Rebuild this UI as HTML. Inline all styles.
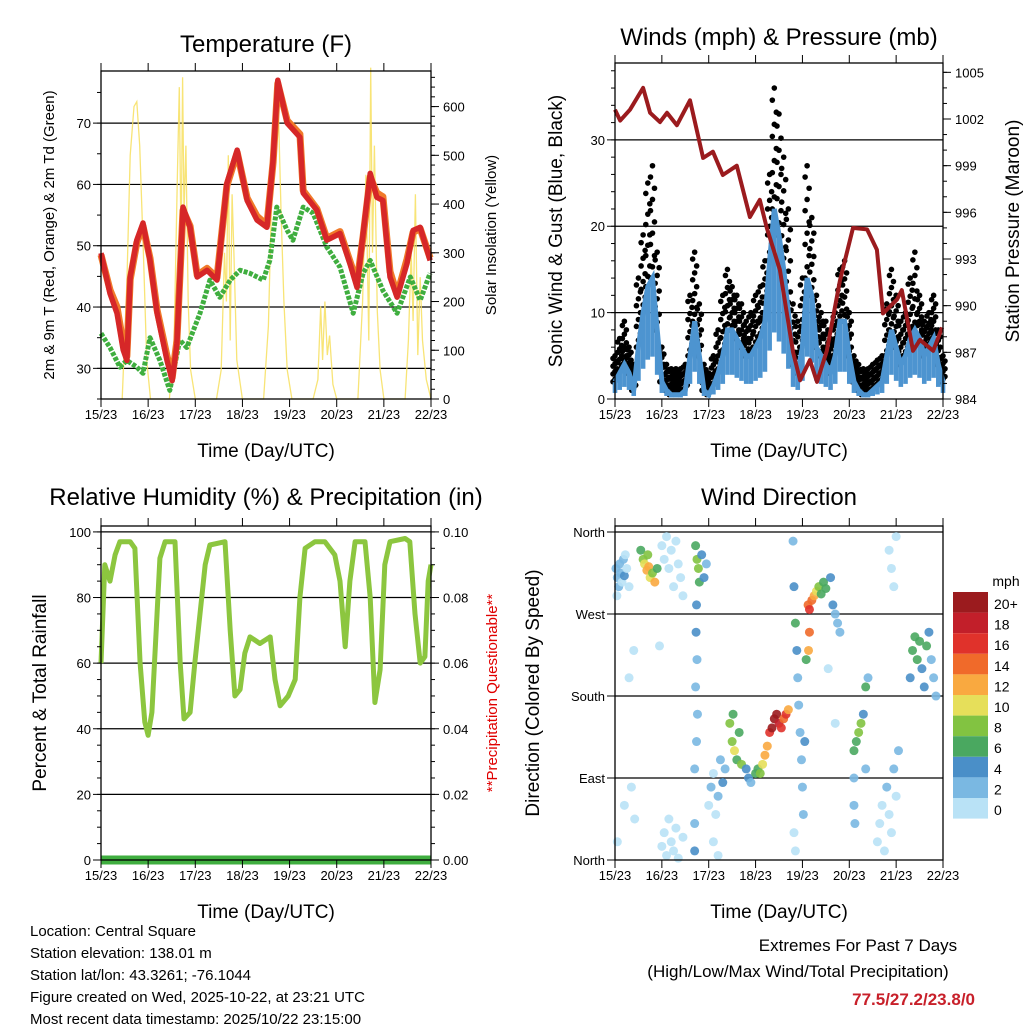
<!DOCTYPE html>
<html><head><meta charset="utf-8"><style>
body{margin:0;background:#fff}
svg{display:block;font-family:"Liberation Sans",sans-serif}
</style></head><body>
<svg id="c" width="1024" height="1024" viewBox="0 0 1024 1024" xmlns="http://www.w3.org/2000/svg"></svg>
<script>
// ---- Temperature data (days since 15/23) ----
const tDays=[0,0.19,0.34,0.47,0.55,0.62,0.76,0.89,1.04,1.19,1.40,1.51,1.61,1.74,1.89,2.04,2.25,2.46,2.67,2.89,3.10,3.31,3.52,3.65,3.75,3.95,4.22,4.29,4.58,4.79,5.07,5.28,5.43,5.56,5.71,5.85,5.98,6.13,6.28,6.49,6.62,6.77,6.98];
const t2m=[48.8,42.2,39,33,31.3,44.9,50.9,53.7,47.6,39,31.3,28,34,56.3,53,44.9,46,44.4,60.2,65.6,57.4,54.2,53,64,77,70,67.7,58.6,55.8,50.9,52,47.1,43.2,52,61.8,57.9,57.4,44.9,41.6,47.1,52.5,53,47.6];
const t9m=[48.5,42.8,40,34,32,44.5,50.5,53.2,48,39.5,32,28.5,34.5,55.8,53.2,45.2,46.3,44.8,59.8,65.2,57.8,54.8,53.4,63.6,76.5,70.4,68.2,59,56,51.2,52.3,47.5,44,51.5,61.2,58.6,58,45.8,42,47.8,52.2,52.8,48];
const tdDays=[0,0.19,0.40,0.55,0.76,0.89,1.04,1.25,1.46,1.67,1.82,2.10,2.31,2.52,2.74,2.95,3.16,3.44,3.58,3.73,3.95,4.07,4.29,4.50,4.79,5.07,5.35,5.56,5.71,5.98,6.28,6.56,6.77,6.98];
const td2m=[35.7,33.4,30.2,31.3,30.2,29.2,35,31.3,26.4,34.6,33.4,39,44.4,41.6,44.4,46,45.5,44.4,47.6,56.3,52.5,50.9,56.3,55.3,49.8,46.5,39,45.5,47.6,42.7,39,44.9,41.1,45.5];
const solDays=[0.45,0.55,0.62,0.7,0.76,0.82,0.9,0.97,1.05, 1.45,1.55,1.62,1.66,1.7,1.73,1.76,1.8,1.85,1.9,2.0, 2.45,2.55,2.62,2.66,2.7,2.74,2.78,2.82,2.88,3.0, 3.45,3.55,3.62,3.7,3.76,3.82,3.88,3.95,4.05, 4.5,4.6,4.66,4.7,4.75,4.8,4.85,4.92,5.0, 5.45,5.55,5.62,5.68,5.72,5.76,5.8,5.86,5.92,6.0, 6.45,6.52,6.58,6.62,6.67,6.72,6.77,6.82,6.9,7.0];
const solVals=[0,240,500,600,610,520,300,80,0, 0,120,460,640,300,660,380,520,200,60,0, 0,60,300,200,500,120,420,300,80,0, 0,150,420,560,600,380,200,60,0, 0,40,190,80,200,90,130,30,0, 0,200,460,120,680,300,520,180,60,0, 0,120,300,160,420,90,250,120,40,0];
// ---- Winds ----
const wStep=0.1;
const gust=[5,7,9,6,4,14,19,25,27,17,6,4,3.5,3.5,3.5,4,12,17,11,4,3,5,8,12,15,13,12,11,9,10,12,13,16,26,36,33,28,22,11,9,14,27,21,12,10,9,7,10,15,16,10,5,4,3.5,3.5,4,4.5,5,11,15,12,9,10,14,17,12,9,10,12,8,5];
const wind=[2,3,4,3,1,6,10,13,14,8,2,1,0.5,0.5,0.5,1,5,9,5,1,0.5,1.5,3,5,8,8,7,6,5,5,6,7,9,16,22,19,15,10,4,3,6,14,12,6,5,4,3,5,9,9,5,2,1,0.5,0.5,1,1.5,2,5,8,6,4,5,7,8,7,5,6,7,4,2];
const pDays=[0,0.11,0.32,0.60,0.75,0.96,1.11,1.32,1.60,1.88,2.09,2.30,2.60,2.88,3.09,3.24,3.52,3.80,3.95,4.16,4.31,4.52,4.80,5.08,5.38,5.59,5.72,6.02,6.12,6.36,6.51,6.79,6.98];
const pres=[1002.6,1001.9,1002.6,1004.0,1002.4,1001.8,1002.4,1001.6,1003.2,999.5,999.9,998.4,999.0,995.7,996.8,995.0,992.3,987.0,985.2,986.5,985.1,987.1,991.6,995.0,994.9,993.6,989.5,990.4,991.0,987.1,987.8,987.1,988.6];
// ---- RH ----
const rhDays=[0,0.08,0.19,0.30,0.40,0.62,0.72,0.83,0.93,1.0,1.08,1.17,1.25,1.36,1.57,1.68,1.76,1.89,1.99,2.10,2.21,2.31,2.63,2.74,2.84,2.95,3.05,3.16,3.37,3.59,3.69,3.80,3.97,4.12,4.22,4.33,4.54,4.75,4.96,5.07,5.18,5.28,5.39,5.60,5.71,5.81,5.92,6.02,6.13,6.45,6.55,6.66,6.77,6.87,6.94,7.0];
const rhVals=[60,90,85,93,97,97,95,60,42,38,45,70,92,97,97,60,43,45,60,75,90,96,97,70,50,52,63,68,66,68,55,47,50,55,80,95,97,97,93,85,65,85,97,97,80,48,58,90,97,98,97,75,60,62,85,90];
const precip=[0,0,0,0,0,0,0,0];
// ---- Wind direction ----
const dDays=[0.02,0.05,0.08,0.1,0.12,0.15,0.18,0.2,0.25,0.3,0.04,0.22, 0.55,0.6,0.63,0.68,0.72,0.75,0.8,0.85,0.9,0.7, 1.0,1.05,1.1,1.15,1.2,1.25,1.3,1.35,1.4,1.45,1.0,1.05,1.1,1.15,1.2,1.25,1.3,1.35,1.45,0.95,0.3,0.4,0.2,0.05,0.35,0.42, 1.72,1.75,1.78,1.8,1.85,1.9,1.95,1.74,1.73,1.75,1.72,1.76,1.74,1.7,1.7,1.7, 2.0,2.05,2.1,2.15,2.2,2.25,2.3,2.35,2.1,2.2, 2.45,2.5,2.55,2.6,2.65,2.52,2.7, 2.8,2.85,2.9,3.0,3.05,3.1,3.15,3.2,3.25, 3.3,3.35,3.4,3.45,3.5,3.55,3.6,3.65,3.7, 3.8,3.82,3.85,3.88,3.9,3.92,3.95,3.98,4.0,4.02,3.82,3.85,4.05,4.08, 4.12,4.15,4.2,4.25,4.3,4.35,4.4,4.45,4.5,4.15,4.13, 4.6,4.65,4.7,4.75,4.8,4.55,4.7, 5.1,5.15,5.2,5.25,5.3,5.35,5.4,5.1,5.12,5.1,5.35, 5.6,5.65,5.7,5.75,5.8,5.85,5.9,5.95,6.0,6.05,5.85,5.9,5.95,6.0, 6.3,6.35,6.4,6.45,6.5,6.55,6.6,6.65,6.7,6.75,6.8,6.85];
const dDirs=[320,310,300,325,315,305,330,312,320,300,290,335, 340,330,325,318,322,310,315,305,320,335, 345,330,355,320,340,300,350,325,310,290,15,30,5,45,20,10,35,2,25,235,200,230,60,20,80,45, 345,330,320,305,335,310,325,280,250,220,190,160,130,100,40,10, 60,80,95,50,70,110,85,100,20,5, 150,130,120,110,140,160,105, 100,90,85,95,100,95,105,115,125, 140,145,155,160,150,145,155,160,165, 350,300,260,230,200,170,140,110,80,50,30,10,130,220, 280,275,285,290,295,300,292,305,298,250,230, 310,280,270,260,250,210,150, 120,130,140,150,160,190,200,60,40,90,100, 20,40,60,10,80,50,30,100,70,120,340,320,300,355, 200,230,245,220,240,210,190,235,250,220,200,180];
const dSpeeds=[2,3,2,2,3,1,2,4,1,1,1,1, 7,8,10,13,12,11,8,12,6,9, 0,0,0,0,1,0,0,0,1,0,0,0,0,0,1,0,0,0,0,1,0,0,0,0,0,0, 6,8,9,6,5,4,3,4,4,3,2,3,2,2,3,4, 1,2,1,1,3,2,4,3,0,0, 8,9,10,7,6,7,8, 5,4,3,6,7,8,10,12,12, 16,20,21,22,18,16,14,16,12, 3,4,6,4,3,3,2,2,2,2,1,1,4,7, 14,16,15,12,10,8,7,6,6,15,12, 4,4,3,2,2,1,1, 6,7,9,8,5,6,3,2,2,2,3, 0,0,1,0,2,1,0,3,1,2,0,0,0,0, 4,6,7,6,7,5,5,6,4,3,3,2];
const cbLabels=["20+","18","16","14","12","10","8","6","4","2","0"];
const cbColors=["#9b1b1e","#c21f2a","#e0322b","#f06a2a","#f9a940","#e6df5a","#82c341","#4aa860","#4a8fc8","#7ab8e2","#b9e2f6"];
const xTicks=["15/23","16/23","17/23","18/23","19/23","20/23","21/23","22/23"];

const NS="http://www.w3.org/2000/svg";
const svg=document.getElementById('c');
function mk(tag,attrs,parent){const e=document.createElementNS(NS,tag);for(const k in attrs)e.setAttribute(k,attrs[k]);(parent||svg).appendChild(e);return e;}
function txt(x,y,s,size,opt){opt=opt||{};const e=mk('text',{x:x,y:y,'font-size':size,fill:opt.fill||'#000','text-anchor':opt.anchor||'middle'});if(opt.rot)e.setAttribute('transform','rotate(-90 '+x+' '+y+')');if(opt.bold)e.setAttribute('font-weight','bold');e.textContent=s;return e;}
function colorFor(s){let i=Math.min(10,Math.floor(s/2));return cbColors[10-i];}

function panel(P){
  const g=mk('g',{});
  
  
  const X=d=>P.x0+d*(P.x1-P.x0)/7;
  const YL=v=>P.y1-(v-P.lmin)*(P.y1-P.y0)/(P.lmax-P.lmin);
  const YR=v=>P.y1-(v-P.rmin)*(P.y1-P.y0)/(P.rmax-P.rmin);
  P.lTicks.forEach(v=>{const y=YL(v);if(y>P.y0+1&&y<P.y1-1){const l=mk('line',{x1:P.x0,x2:P.x1,y1:y,y2:y,stroke:'#000','stroke-width':1.2},g);}});
  P.draw(g,X,YL,YR);
  const f=mk('rect',{x:P.x0,y:P.y0,width:P.x1-P.x0,height:P.y1-P.y0,fill:'none',stroke:'#000','stroke-width':1.3},g);
  
  for(let i=0;i<=7;i++){const x=X(i);mk('line',{x1:x,x2:x,y1:P.y1,y2:P.y1+8,stroke:'#000'},g);mk('line',{x1:x,x2:x,y1:P.y0,y2:P.y0-8,stroke:'#000'},g);
    const t=txt(x,P.y1+20,xTicks[i],13);}
  P.lTicks.forEach((v,i)=>{const y=YL(v);mk('line',{x1:P.x0-8,x2:P.x0,y1:y,y2:y,stroke:'#000'},g);const lab=P.lLabels?P.lLabels[i]:String(v);const t=txt(P.x0-10,y+5,lab,13,{anchor:'end'});});
  if(P.lMinor)for(let v=P.lmin;v<=P.lmax;v+=P.lMinor){const y=YL(v);mk('line',{x1:P.x0-4,x2:P.x0,y1:y,y2:y,stroke:'#000'},g);}
  if(P.rTicks){P.rTicks.forEach((v,i)=>{const y=YR(v);mk('line',{x1:P.x1,x2:P.x1+8,y1:y,y2:y,stroke:'#000'},g);const t=txt(P.x1+12,y+5,P.rLabels[i],13,{anchor:'start'});});
    if(P.rMinor)for(let v=P.rmin;v<=P.rmax;v+=P.rMinor){const y=YR(v);mk('line',{x1:P.x1,x2:P.x1+4,y1:y,y2:y,stroke:'#000'},g);}}
  const tt=txt((P.x0+P.x1)/2,P.ty,P.title,24);
  const xt=txt((P.x0+P.x1)/2,P.y1+58,'Time (Day/UTC)',19);
  const lt=txt(P.lx,(P.y0+P.y1)/2,P.ltitle,P.lsize,{rot:1});
  if(P.rtitle){const rt=txt(P.rx,(P.y0+P.y1)/2,P.rtitle,P.rsize,{rot:1,fill:P.rfill});}
}
function pts(ds,vs,X,Y){return ds.map((d,i)=>X(d).toFixed(1)+','+Y(vs[i]).toFixed(1)).join(' ');}

// Temperature
panel({name:'temperature-panel',x0:101,x1:431,y0:71,y1:399,lmin:25,lmax:78.5,rmin:0,rmax:673,
 lTicks:[30,40,50,60,70],lMinor:5,rTicks:[0,100,200,300,400,500,600],rLabels:['0','100','200','300','400','500','600'],rMinor:20,
 title:'Temperature (F)',ty:52,ltitle:'2m & 9m T (Red, Orange) & 2m Td (Green)',lx:54,lsize:15,rtitle:'Solar Insolation (Yellow)',rx:496,rsize:15,
 draw:(g,X,YL,YR)=>{
  const s=mk('polyline',{points:pts(solDays,solVals,X,YR),fill:'none',stroke:'#f7df5e','stroke-width':1.3,'stroke-opacity':0.85},g);
  const d=mk('polyline',{points:pts(tdDays,td2m,X,YL),fill:'none',stroke:'#3fae3f','stroke-width':5,'stroke-dasharray':'4 1.5','stroke-linejoin':'round'},g);
  const o=mk('polyline',{points:pts(tDays,t9m,X,YL),fill:'none',stroke:'#f07a2a','stroke-width':7,'stroke-linejoin':'round'},g);
  const r=mk('polyline',{points:pts(tDays,t2m,X,YL),fill:'none',stroke:'#d62728','stroke-width':5.5,'stroke-linejoin':'round'},g);
 }});
// Winds
panel({name:'winds-panel',x0:615,x1:943,y0:63,y1:399,lmin:0,lmax:38.9,rmin:984,rmax:1005.6,
 lTicks:[0,10,20,30],lMinor:2,rTicks:[984,987,990,993,996,999,1002,1005],rLabels:['984','987','990','993','996','999','1002','1005'],rMinor:1,
 title:'Winds (mph) & Pressure (mb)',ty:45,ltitle:'Sonic Wind & Gust (Blue, Black)',lx:562,lsize:19,rtitle:'Station Pressure (Maroon)',rx:1019,rsize:19,
 draw:(g,X,YL,YR)=>{
  gust.forEach((gv,i)=>{const x=X(i*wStep);const lo=wind[i];const n=10;
    for(let k=0;k<=n;k++){const v=lo+(gv-lo)*k/n;const c=mk('circle',{cx:x+((k%3)-1)*2,cy:YL(v),r:2.8,fill:'#000'},g);}});
  wind.forEach((w,i)=>{const x=X(i*wStep);const b=mk('rect',{x:x-2.3,y:YL(w),width:4.6,height:Math.max(2,YL(w*0.35)-YL(w)),fill:'#4d94d0'},g);});
  const l=mk('polyline',{points:wind.map((w,i)=>X(i*wStep).toFixed(1)+','+YL(w).toFixed(1)).join(' '),fill:'none',stroke:'#4d94d0','stroke-width':5},g);
  const p=mk('polyline',{points:pts(pDays,pres,X,YR),fill:'none',stroke:'#9b1b1e','stroke-width':4,'stroke-linejoin':'round'},g);
 }});
// RH
panel({name:'humidity-panel',x0:101,x1:431,y0:526,y1:860,lmin:0,lmax:101.8,rmin:0,rmax:0.1018,
 lTicks:[0,20,40,60,80,100],lMinor:5,rTicks:[0,0.02,0.04,0.06,0.08,0.1],rLabels:['0.00','0.02','0.04','0.06','0.08','0.10'],rMinor:0.005,
 title:'Relative Humidity (%) & Precipitation (in)',ty:505,ltitle:'Percent & Total Rainfall',lx:46,lsize:19,rtitle:'**Precipitation Questionable**',rx:497,rsize:15,rfill:'#e00000',
 draw:(g,X,YL,YR)=>{
  const r=mk('polyline',{points:pts(rhDays,rhVals,X,YL),fill:'none',stroke:'#8cc63f','stroke-width':5,'stroke-linejoin':'round'},g);
  const p=mk('polyline',{points:precip.map((v,i)=>X(i).toFixed(1)+','+YR(v).toFixed(1)).join(' '),fill:'none',stroke:'#3fae3f','stroke-width':9},g);
 }});
// Wind direction
panel({name:'wind-direction-panel',x0:615,x1:943,y0:526,y1:860,lmin:0,lmax:366.6,
 lTicks:[0,90,180,270,360],lLabels:['North','East','South','West','North'],
 title:'Wind Direction',ty:505,ltitle:'Direction (Colored By Speed)',lx:539,lsize:19,
 draw:(g,X,YL)=>{
  dDays.forEach((d,i)=>{const c=mk('circle',{cx:X(d),cy:YL(dDirs[i]),r:4.5,fill:colorFor(dSpeeds[i]),'fill-opacity':0.9},g);});
 }});
// colorbar
const cb=mk('g',{});
const cbt=txt(1006,586,'mph',14);
cbColors.forEach((c,i)=>{const r=mk('rect',{x:953,y:592+i*20.6,width:35,height:20.6,fill:c},cb);
 const t=txt(994,609+i*20.6,cbLabels[i],14,{anchor:'start'});});
// info text
const info=['Location: Central Square','Station elevation: 138.01 m','Station lat/lon: 43.3261; -76.1044','Figure created on Wed, 2025-10-22, at 23:21 UTC','Most recent data timestamp: 2025/10/22 23:15:00'];
info.forEach((s,i)=>{const t=txt(30,936+i*22,s,15,{anchor:'start'});});
let t1=txt(858,951,'Extremes For Past 7 Days',17);
let t2=txt(798,977,'(High/Low/Max Wind/Total Precipitation)',17);
let t3=txt(975,1005,'77.5/27.2/23.8/0',17,{anchor:'end',fill:'#c8202a',bold:1});
</script>
</body></html>
